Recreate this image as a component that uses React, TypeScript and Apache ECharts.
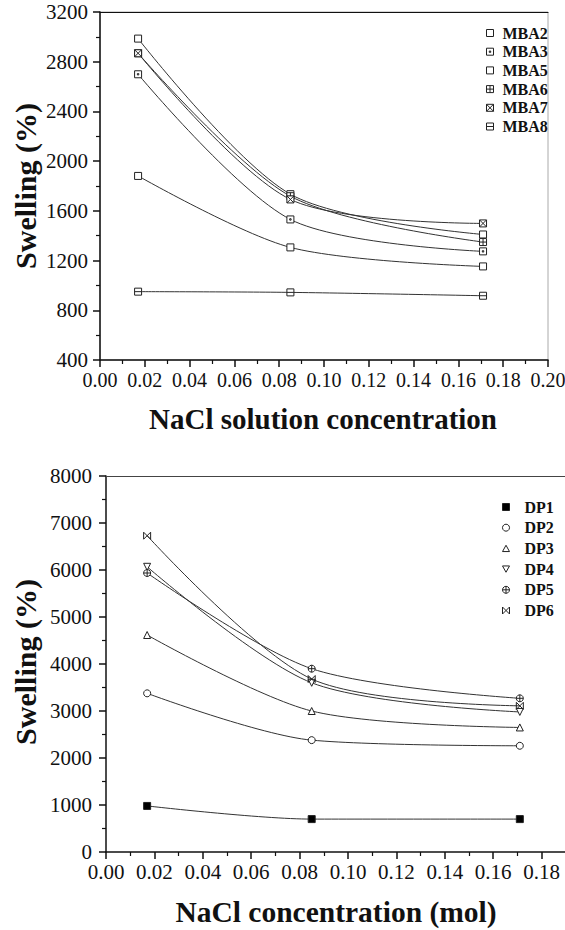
import React, { useEffect, useRef } from "react";
import * as echarts from "echarts";

const xTop = [0.017, 0.085, 0.171];
const mbaNames = ["MBA2", "MBA3", "MBA5", "MBA6", "MBA7", "MBA8"];
const mba2 = [1881, 1306, 1153];
const mba3 = [2699, 1531, 1274];
const mba5 = [2986, 1734, 1410];
const mba6 = [2868, 1718, 1349];
const mba7 = [2868, 1692, 1499];
const mba8 = [950, 944, 917];

const xBottom = [0.017, 0.085, 0.171];
const dpNames = ["DP1", "DP2", "DP3", "DP4", "DP5", "DP6"];
const dp1 = [980, 700, 700];
const dp2 = [3376, 2380, 2260];
const dp3 = [4617, 3000, 2650];
const dp4 = [6068, 3600, 2980];
const dp5 = [5936, 3900, 3270];
const dp6 = [6730, 3680, 3110];

const FONT = "'Liberation Serif', 'Times New Roman', Times, serif";

const SQ = "M0,0 H10 V10 H0 Z";
const mbaSymbols = [
  "path://" + SQ,
  "path://" + SQ + " M4,4 H6 V6 H4 Z",
  "path://" + SQ,
  "path://" + SQ + " M5,0 V10 M0,5 H10",
  "path://" + SQ + " M0,0 L10,10 M10,0 L0,10",
  "path://" + SQ + " M0,5 H10",
];
const mbaFill = ["#fff", "#fff", "#fff", "#fff", "#fff", "#fff"];

const dpSymbols = [
  "path://" + SQ,
  "path://M5,0 A5,5 0 1,1 4.99,0 Z",
  "path://M5,0 L10,9 L0,9 Z",
  "path://M0,0 L10,0 L5,9 Z",
  "path://M5,0 A5,5 0 1,1 4.99,0 Z M5,0 V10 M0,5 H10",
  "path://M0,0 L10,10 M0,10 L10,0 M0,0 V10 M10,0 V10",
];
const dpFill = ["#000", "#fff", "#fff", "#fff", "#fff", "#fff"];

function pairs(xs: number[], ys: number[]) {
  return xs.map((x, i) => [x, ys[i]]);
}

export default function App() {
  const ref = useRef<HTMLDivElement>(null);
  useEffect(() => {
    if (!ref.current) return;
    const chart = echarts.init(ref.current, null, { renderer: "svg" });
    const mbaData = [mba2, mba3, mba5, mba6, mba7, mba8];
    const dpData = [dp1, dp2, dp3, dp4, dp5, dp6];

    const axisLineStyle = { color: "#111", width: 1.5 };
    const labelStyle = (size: number, margin: number) => ({
      fontFamily: FONT,
      fontSize: size,
      color: "#111",
      margin,
    });

    const series: any[] = [];
    mbaNames.forEach((n, i) => {
      series.push({
        name: n,
        type: "line",
        xAxisIndex: 0,
        yAxisIndex: 0,
        smooth: 0.3,
        data: pairs(xTop, mbaData[i]),
        symbol: mbaSymbols[i],
        symbolSize: 7,
        lineStyle: { color: "#333", width: 1 },
        itemStyle: { color: mbaFill[i], borderColor: "#222", borderWidth: 1 },
      });
    });
    dpNames.forEach((n, i) => {
      series.push({
        name: n,
        type: "line",
        xAxisIndex: 2,
        yAxisIndex: 1,
        smooth: 0.3,
        data: pairs(xBottom, dpData[i]),
        symbol: dpSymbols[i],
        symbolSize: 7,
        lineStyle: { color: "#333", width: 1 },
        itemStyle: { color: dpFill[i], borderColor: "#222", borderWidth: 1 },
      });
    });

    const xCommon = (min: number, max: number, size: number, margin: number, hideMax: boolean) => ({
      type: "value",
      min,
      max,
      interval: 0.02,
      axisLine: { show: true, lineStyle: axisLineStyle },
      axisTick: { show: true, length: 7, lineStyle: { color: "#111", width: 1.5 } },
      minorTick: { show: true, splitNumber: 2, length: 4, lineStyle: { color: "#111", width: 1.2 } },
      axisLabel: {
        ...labelStyle(size, margin),
        showMaxLabel: !hideMax,
        formatter: (v: number) => (hideMax && v > 0.19 ? "" : v.toFixed(2)),
      },
      splitLine: { show: false },
    });

    const titleText = (text: string, x: number, y: number, rot: number, size: number) => ({
      type: "text",
      x,
      y,
      rotation: rot,
      style: {
        text,
        fontFamily: FONT,
        fontWeight: "bold",
        fontSize: size,
        fill: "#111",
        align: "center",
        verticalAlign: "middle",
      },
    });

    chart.setOption({
      animation: false,
      backgroundColor: "#fff",
      grid: [
        { left: 100, top: 12, width: 448, height: 348, show: true, borderColor: "#aaa", borderWidth: 1, outerBoundsMode: "none", containLabel: false },
        { left: 106, top: 476, width: 484, height: 376, show: false, outerBoundsMode: "none", containLabel: false },
      ],
      xAxis: [
        { ...xCommon(0, 0.2, 20, 10, false), gridIndex: 0 },
        {
          gridIndex: 0,
          type: "value",
          position: "top",
          min: 0,
          max: 0.2,
          axisLine: { show: true, lineStyle: { color: "#111", width: 1 } },
          axisTick: { show: false },
          axisLabel: { show: false },
          splitLine: { show: false },
        },
        { ...xCommon(0, 0.2, 21, 9, true), gridIndex: 1 },
        {
          gridIndex: 1,
          type: "value",
          position: "top",
          min: 0,
          max: 0.2,
          axisLine: { show: true, lineStyle: { color: "#444", width: 1 } },
          axisTick: { show: false },
          axisLabel: { show: false },
          splitLine: { show: false },
        },
      ],
      yAxis: [
        {
          gridIndex: 0,
          type: "value",
          min: 400,
          max: 3200,
          interval: 400,
          axisLine: { show: true, lineStyle: axisLineStyle },
          axisTick: { show: true, length: 7, lineStyle: { color: "#111", width: 1.5 } },
          minorTick: { show: true, splitNumber: 2, length: 4, lineStyle: { color: "#111", width: 1.2 } },
          axisLabel: { ...labelStyle(21, 12), formatter: (v: number) => String(v) },
          splitLine: { show: false },
        },
        {
          gridIndex: 1,
          type: "value",
          min: 0,
          max: 8000,
          interval: 1000,
          axisLine: { show: true, lineStyle: axisLineStyle },
          axisTick: { show: true, length: 7, lineStyle: { color: "#111", width: 1.5 } },
          minorTick: { show: true, splitNumber: 2, length: 4, lineStyle: { color: "#111", width: 1.2 } },
          axisLabel: { ...labelStyle(21, 14), formatter: (v: number) => String(v) },
          splitLine: { show: false },
        },
      ],
      legend: [
        {
          orient: "vertical",
          left: 481,
          top: 20,
          itemWidth: 7,
          itemHeight: 7,
          itemGap: 2.7,
          selectedMode: false,
          textStyle: { fontFamily: FONT, fontWeight: "bold", fontSize: 16, color: "#111", padding: [0, 0, 0, 4], lineHeight: 16 },
          data: mbaNames.map((n, i) => ({
            name: n,
            icon: mbaSymbols[i],
            itemStyle: { color: mbaFill[i], borderColor: "#222", borderWidth: 1 },
          })),
        },
        {
          orient: "vertical",
          left: 497,
          top: 494,
          itemWidth: 7,
          itemHeight: 7,
          itemGap: 4.7,
          selectedMode: false,
          textStyle: { fontFamily: FONT, fontWeight: "bold", fontSize: 16, color: "#111", padding: [0, 0, 0, 10], lineHeight: 16 },
          data: dpNames.map((n, i) => ({
            name: n,
            icon: dpSymbols[i],
            itemStyle: { color: dpFill[i], borderColor: "#222", borderWidth: 1 },
          })),
        },
      ],
      graphic: [
        titleText("Swelling (%)", 25, 186, Math.PI / 2, 30),
        titleText("Swelling (%)", 25, 662, Math.PI / 2, 30),
        titleText("NaCl solution concentration", 323, 419, 0, 29),
        titleText("NaCl concentration (mol)", 336, 912, 0, 29.5),
      ],
      series,
    });
    return () => chart.dispose();
  }, []);
  return (
    <div
      ref={ref}
      style={{ position: "absolute", left: 0, top: 0, width: 565, height: 930, background: "#fff", overflow: "hidden" }}
    />
  );
}
